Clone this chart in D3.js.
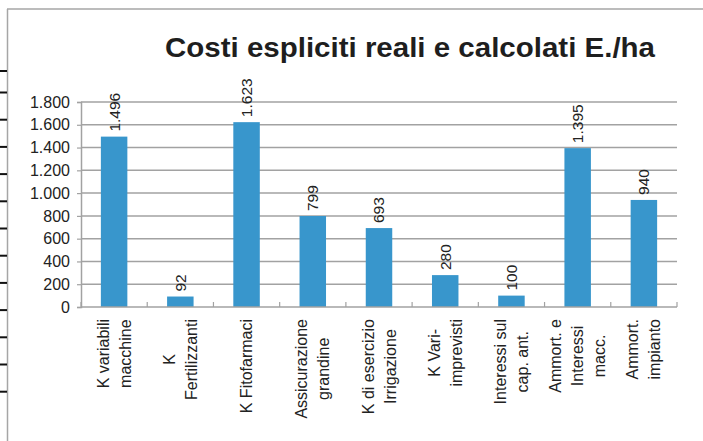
<!DOCTYPE html>
<html>
<head>
<meta charset="utf-8">
<script src="https://cdn.jsdelivr.net/npm/d3@7"></script>
<style>
  html, body { margin: 0; padding: 0; background: #fff; }
  svg { display: block; font-family: "Liberation Sans", Arial, sans-serif; }
</style>
</head>
<body>
<svg id="chart" width="703" height="441"></svg>
<script>
const title = "Costi espliciti reali e calcolati E./ha";
const categories = [
  ["K variabili", "macchine"],
  ["K", "Fertilizzanti"],
  ["K Fitofarmaci"],
  ["Assicurazione", "grandine"],
  ["K di esercizio", "Irrigazione"],
  ["K Vari-", "imprevisti"],
  ["Interessi sul", "cap. ant."],
  ["Ammort. e", "Interessi", "macc."],
  ["Ammort.", "impianto"]
];
const values = [1496, 92, 1623, 799, 693, 280, 100, 1395, 940];
const yTicks = [0, 200, 400, 600, 800, 1000, 1200, 1400, 1600, 1800];

const fmt = v => d3.format(",")(v).replace(/,/g, ".");

const svg = d3.select("#chart");
const W = 703, H = 441;

// page frame decoration (document edge)
const frame = svg.append("g");
frame.append("line").attr("x1", 7).attr("x2", W).attr("y1", 9).attr("y2", 9)
  .attr("stroke", "#a6a6a6").attr("stroke-width", 1.5);
frame.append("line").attr("x1", 7.5).attr("x2", 7.5).attr("y1", 9).attr("y2", H)
  .attr("stroke", "#a6a6a6").attr("stroke-width", 1.5);
const marginTicks = d3.range(13);
frame.selectAll("line.mt").data(marginTicks).join("line")
  .attr("class", "mt")
  .attr("x1", 0).attr("x2", 7)
  .attr("y1", (d, i) => i === 0 ? 71 : 92.5 + (i - 1) * 27.2)
  .attr("y2", (d, i) => i === 0 ? 71 : 92.5 + (i - 1) * 27.2)
  .attr("stroke", "#111").attr("stroke-width", 2);

const plot = { left: 81, right: 677, top: 102, bottom: 307 };

const x = d3.scaleBand()
  .domain(d3.range(categories.length))
  .range([plot.left, plot.right])
  .paddingInner(0.6)
  .paddingOuter(0.3);

const y = d3.scaleLinear().domain([0, 1800]).range([plot.bottom, plot.top]);

// gridlines
svg.append("g").selectAll("line").data(yTicks.filter(d => d > 0)).join("line")
  .attr("x1", plot.left).attr("x2", plot.right)
  .attr("y1", d => y(d)).attr("y2", d => y(d))
  .attr("stroke", "#a2a2a2").attr("stroke-width", 1.5);

// y axis
const yAxis = d3.axisLeft(y).tickValues(yTicks).tickFormat(fmt).tickSize(4).tickPadding(7);
const yg = svg.append("g").attr("transform", `translate(${plot.left},0)`).call(yAxis);
yg.select(".domain").attr("stroke", "#a2a2a2").attr("stroke-width", 1.5);
yg.selectAll(".tick line").attr("stroke", "#a2a2a2").attr("stroke-width", 1.2);
yg.selectAll(".tick text").attr("font-size", 16).attr("fill", "#222")
  .attr("font-family", "Liberation Sans, Arial, sans-serif");

// bars
svg.append("g").selectAll("rect").data(values).join("rect")
  .attr("x", (d, i) => x(i))
  .attr("width", x.bandwidth())
  .attr("y", d => y(d))
  .attr("height", d => y(0) - y(d))
  .attr("fill", "#3896cc");

// x axis line
svg.append("line").attr("x1", plot.left).attr("x2", plot.right)
  .attr("y1", plot.bottom).attr("y2", plot.bottom)
  .attr("stroke", "#a2a2a2").attr("stroke-width", 1.5);
// category boundary ticks (inside)
const boundaries = d3.range(categories.length + 1).map(i => plot.left + (plot.right - plot.left) * i / categories.length);
svg.append("g").selectAll("line").data(boundaries).join("line")
  .attr("x1", d => d).attr("x2", d => d)
  .attr("y1", plot.bottom - 5).attr("y2", plot.bottom)
  .attr("stroke", "#a2a2a2").attr("stroke-width", 1.2);

// value labels
svg.append("g").selectAll("text").data(values).join("text")
  .attr("transform", (d, i) => `translate(${x(i) + x.bandwidth() / 2},${y(d) - 5}) rotate(-90)`)
  .attr("text-anchor", "start")
  .attr("dy", "0.35em")
  .attr("font-size", 15.5)
  .attr("fill", "#222")
  .text(d => fmt(d));

// category labels (rotated, multiline, centered lines)
const catG = svg.append("g");
const lineH = 22;
const labelTop = 319;
categories.forEach((lines, i) => {
  const cx = x(i) + x.bandwidth() / 2;
  const g = catG.append("g");
  const texts = lines.map((ln, j) => g.append("text")
    .attr("font-size", 16).attr("fill", "#222")
    .attr("text-anchor", "middle").attr("dy", "0.35em").text(ln));
  const maxW = d3.max(texts, t => t.node().getComputedTextLength());
  const n = lines.length;
  texts.forEach((t, j) => {
    const lx = cx + (j - (n - 1) / 2) * lineH;
    t.attr("transform", `translate(${lx},${labelTop + maxW / 2}) rotate(-90)`);
  });
});

// title
svg.append("text")
  .attr("x", 165).attr("y", 57)
  .attr("font-size", 27).attr("font-weight", "bold").attr("fill", "#1e1e1e")
  .attr("textLength", 490).attr("lengthAdjust", "spacingAndGlyphs")
  .text(title);
</script>
</body>
</html>
